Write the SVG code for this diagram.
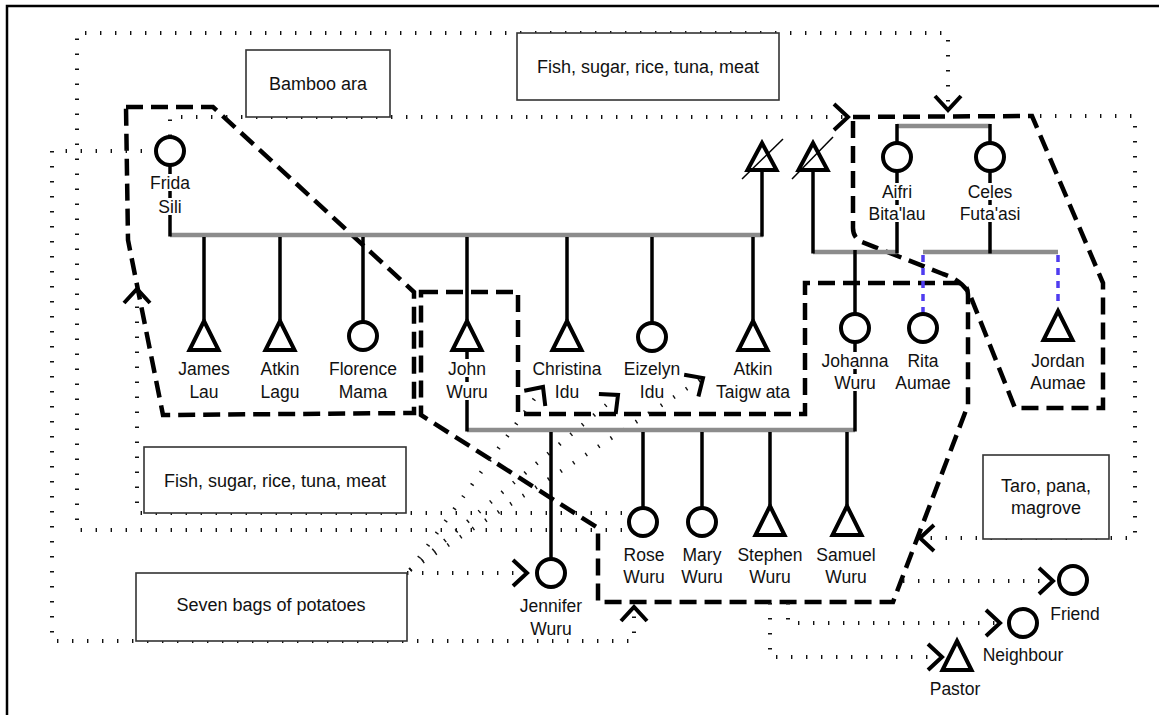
<svg xmlns="http://www.w3.org/2000/svg" width="1159" height="715" viewBox="0 0 1159 715">
<style>
.frame{fill:none;stroke:#000;stroke-width:2.5}
.box{fill:#fff;stroke:#333;stroke-width:1.6}
.btxt{font-family:"Liberation Sans",Arial,sans-serif;font-size:18px;fill:#111;text-anchor:middle}
.lbl{font-family:"Liberation Sans",Arial,sans-serif;font-size:17.5px;fill:#111;text-anchor:middle}
.sym{fill:#fff;stroke:#000;stroke-width:4;stroke-linejoin:miter}
.line{stroke:#000;stroke-width:3.5;fill:none}
.bar{stroke:#8c8c8c;stroke-width:4.5;fill:none}
.blue{stroke:#4f3cf0;stroke-width:3.5;stroke-dasharray:7 6;fill:none}
.slash{stroke:#000;stroke-width:1.5;fill:none}
.grp{fill:none;stroke:#000;stroke-width:4.5;stroke-dasharray:17 8}
.dot{fill:none;stroke:#111;stroke-width:4;stroke-dasharray:1.4 13.6;marker-end:url(#chev)}
.bg{fill:#fff}
</style>
<defs>
<marker id="chev" markerUnits="userSpaceOnUse" orient="auto" markerWidth="40" markerHeight="40" viewBox="-20 -20 40 40" refX="0" refY="0" overflow="visible">
<path d="M-14,-13 L0,0 L-14,13" fill="none" stroke="#000" stroke-width="4" stroke-dasharray="none"/>
</marker>
</defs>
<rect width="1159" height="715" fill="#fff"/>
<path class="frame" d="M7,716 V6 H1160"/>

<g id="groups">
<path id="group-frida-children" class="grp" d="M126,107 L213,107 L414,292 L414,413 L163,415 L128,240 Z"/>
<path id="group-wuru" class="grp" d="M421,292 L518,292 L518,414 L805,414 L805,283 L958,283 Q968,283 968,295 L968,405 L893,602 L598,602 L598,528 L421,415 Z"/>
<path id="group-aifri" class="grp" d="M853,117 L1032,116 L1103,283 L1103,408 L1015,408 L970,295 Q962,280 943,274 L862,242 Q853,238 853,228 Z"/>
</g>

<g id="connectors">
<path class="dot" d="M142,151 H52 V641 H634 V607"/>
<path class="dot" d="M407,573 H527"/>
<path class="dot" d="M410,570 L543,387"/>
<path class="dot" d="M410,570 L618,395"/>
<path class="dot" d="M410,570 L703,378"/>
<path class="dot" d="M622,513 H137 V289"/>
<path class="dot" d="M622,530 H77 V33 H948 V110"/>
<path class="dot" d="M170,136 V117 H848"/>
<path class="dot" d="M1040,116 H1135 V538 H920"/>
<path class="dot" d="M903,581 H1053"/>
<path class="dot" d="M770,603 V657 H942"/>
<path class="dot" d="M788,603 V623 H1000"/>

<path class="bar" d="M170,235 H763"/>
<path class="bar" d="M897,126 H990"/>
<path class="bar" d="M813,252 H897"/>
<path class="bar" d="M923,252 H1058"/>
<path class="bar" d="M467,430 H855"/>

<path class="line" d="M170,165 V236.5"/>
<path class="line" d="M762,172 V236.5"/>
<path class="line" d="M204,237 V320 M280,237 V320 M363,237 V322 M467,237 V320 M567,237 V320 M652,237 V323 M753,237 V320"/>
<path class="line" d="M467,352 V431.5"/>
<path class="line" d="M813,172 V253.5"/>
<path class="line" d="M897,124 V253.5"/>
<path class="line" d="M990,124 V253.5"/>
<path class="line" d="M855,250 V431.5"/>
<path class="line" d="M551,432 V559 M643,432 V508 M702,432 V508 M770,432 V505 M847,432 V505"/>
<path class="blue" d="M923,255 V313"/>
<path class="blue" d="M1058,255 V307"/>
</g>

<g id="box-bamboo"><rect class="box" x="246" y="50" width="144" height="67"/><text class="btxt" x="318" y="90">Bamboo ara</text></g>
<g id="box-fish-top"><rect class="box" x="517" y="33" width="262" height="67"/><text class="btxt" x="648" y="73">Fish, sugar, rice, tuna, meat</text></g>
<g id="box-fish-low"><rect class="box" x="144" y="447" width="262" height="66"/><text class="btxt" x="275" y="487">Fish, sugar, rice, tuna, meat</text></g>
<g id="box-potatoes"><rect class="box" x="136" y="573" width="271" height="68"/><text class="btxt" x="271" y="611">Seven bags of potatoes</text></g>
<g id="box-taro"><rect class="box" x="983" y="455" width="126" height="84"/><text class="btxt" x="1046" y="492">Taro, pana,</text><text class="btxt" x="1046" y="514">magrove</text></g>

<g id="frida"><rect class="bg" x="149" y="174" width="42" height="17"/><rect class="bg" x="156" y="198" width="28" height="17"/><circle class="sym" cx="170" cy="151" r="14"/><text class="lbl" x="170" y="189">Frida</text><text class="lbl" x="170" y="213">Sili</text></g>
<g id="atkin-deceased"><path class="sym" d="M762,143 L776.5,170 L747.5,170 Z"/><path class="slash" d="M742,179 L783,139"/></g>
<g id="father-deceased"><path class="sym" d="M813,143 L827.5,170 L798.5,170 Z"/><path class="slash" d="M792,179 L833,137"/></g>
<g id="aifri"><rect class="bg" x="866" y="183" width="62" height="17"/><rect class="bg" x="866" y="205" width="62" height="17"/><circle class="sym" cx="897" cy="157" r="14"/><text class="lbl" x="897" y="198">Aifri</text><text class="lbl" x="897" y="220">Bita'lau</text></g>
<g id="celes"><rect class="bg" x="958" y="183" width="64" height="17"/><rect class="bg" x="958" y="205" width="64" height="17"/><circle class="sym" cx="990" cy="157" r="14"/><text class="lbl" x="990" y="198">Celes</text><text class="lbl" x="990" y="220">Futa'asi</text></g>

<g id="james"><path class="sym" d="M204,321 L218.5,350 L189.5,350 Z"/><text class="lbl" x="204" y="375">James</text><text class="lbl" x="204" y="398">Lau</text></g>
<g id="atkin-lagu"><path class="sym" d="M280,321 L294.5,350 L265.5,350 Z"/><text class="lbl" x="280" y="375">Atkin</text><text class="lbl" x="280" y="398">Lagu</text></g>
<g id="florence"><circle class="sym" cx="363" cy="336" r="14"/><text class="lbl" x="363" y="375">Florence</text><text class="lbl" x="363" y="398">Mama</text></g>
<g id="john"><rect class="bg" x="446" y="359" width="42" height="18"/><rect class="bg" x="444" y="382" width="46" height="18"/><path class="sym" d="M467,321 L481.5,350 L452.5,350 Z"/><text class="lbl" x="467" y="375">John</text><text class="lbl" x="467" y="398">Wuru</text></g>
<g id="christina"><path class="sym" d="M567,321 L581.5,350 L552.5,350 Z"/><text class="lbl" x="567" y="375">Christina</text><text class="lbl" x="567" y="398">Idu</text></g>
<g id="eizelyn"><circle class="sym" cx="652" cy="337" r="14"/><text class="lbl" x="652" y="375">Eizelyn</text><text class="lbl" x="652" y="398">Idu</text></g>
<g id="atkin-taigwata"><path class="sym" d="M753,321 L767.5,350 L738.5,350 Z"/><text class="lbl" x="753" y="375">Atkin</text><text class="lbl" x="753" y="398">Taigw ata</text></g>

<g id="johanna"><rect class="bg" x="820" y="352" width="70" height="17"/><rect class="bg" x="833" y="374" width="44" height="17"/><circle class="sym" cx="855" cy="328" r="14"/><text class="lbl" x="855" y="367">Johanna</text><text class="lbl" x="855" y="389">Wuru</text></g>
<g id="rita"><circle class="sym" cx="923" cy="328" r="14"/><text class="lbl" x="923" y="367">Rita</text><text class="lbl" x="923" y="389">Aumae</text></g>
<g id="jordan"><path class="sym" d="M1058,311 L1072.5,340 L1043.5,340 Z"/><text class="lbl" x="1058" y="367">Jordan</text><text class="lbl" x="1058" y="389">Aumae</text></g>

<g id="jennifer"><circle class="sym" cx="551" cy="573" r="14"/><text class="lbl" x="551" y="612">Jennifer</text><text class="lbl" x="551" y="635">Wuru</text></g>
<g id="rose"><circle class="sym" cx="643" cy="522" r="14"/><text class="lbl" x="644" y="561">Rose</text><text class="lbl" x="644" y="583">Wuru</text></g>
<g id="mary"><circle class="sym" cx="702" cy="522" r="14"/><text class="lbl" x="702" y="561">Mary</text><text class="lbl" x="702" y="583">Wuru</text></g>
<g id="stephen"><path class="sym" d="M770,506 L784.5,535 L755.5,535 Z"/><text class="lbl" x="770" y="561">Stephen</text><text class="lbl" x="770" y="583">Wuru</text></g>
<g id="samuel"><path class="sym" d="M847,506 L861.5,535 L832.5,535 Z"/><text class="lbl" x="846" y="561">Samuel</text><text class="lbl" x="846" y="583">Wuru</text></g>

<g id="friend"><circle class="sym" cx="1073" cy="580" r="14"/><text class="lbl" x="1075" y="620">Friend</text></g>
<g id="neighbour"><circle class="sym" cx="1023" cy="623" r="14"/><text class="lbl" x="1023" y="661">Neighbour</text></g>
<g id="pastor"><path class="sym" d="M957,641 L971.5,670 L942.5,670 Z"/><text class="lbl" x="955" y="695">Pastor</text></g>
</svg>
